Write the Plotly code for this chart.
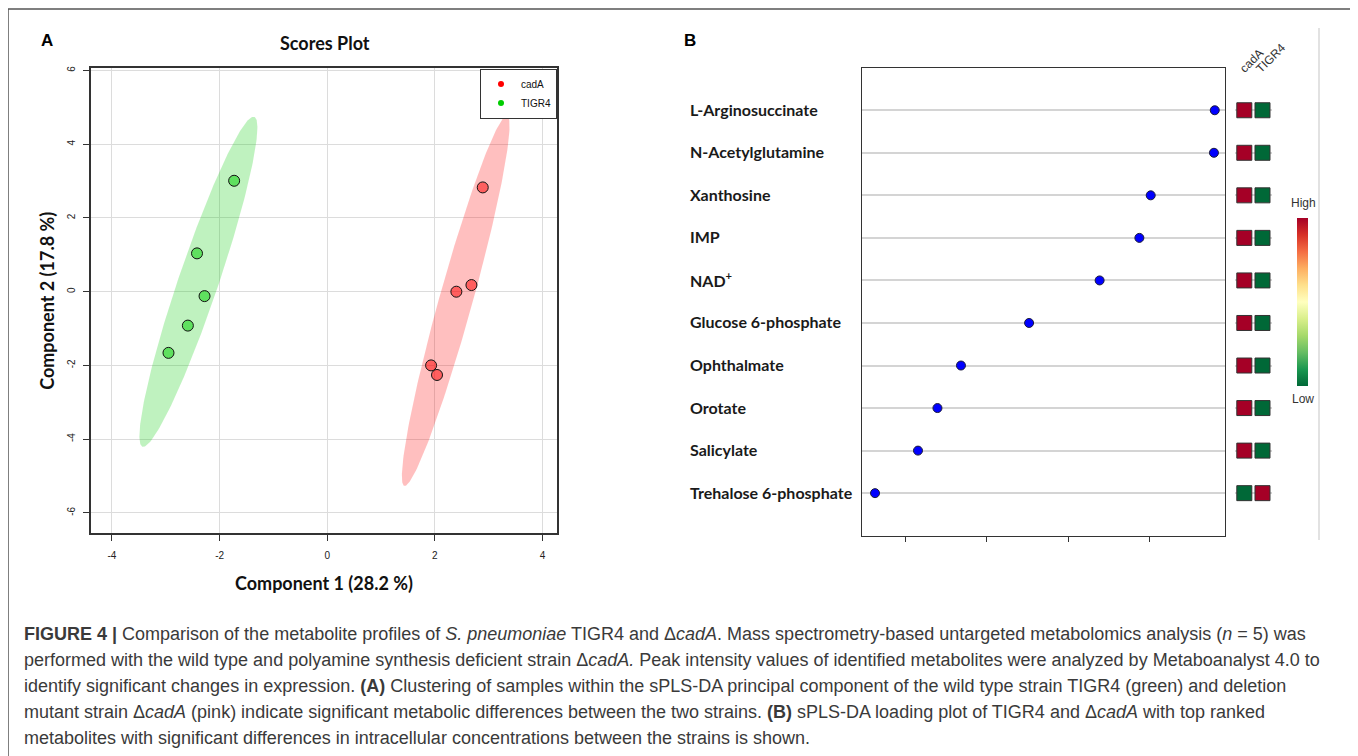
import numpy as np
import plotly.graph_objects as go

W, H = 1358, 756
OFF = 8  # the page body has an 8px margin; place marks where they appear on screen


def px(x):
    return (x - OFF) / W


def py(y):
    return 1 - (y - OFF) / H


# ---------------- Panel A data (scores) ----------------
cadA_x = [2.89, 2.40, 2.68, 1.93, 2.04]
cadA_y = [2.83, 0.00, 0.18, -2.00, -2.26]
tigr4_x = [-1.73, -2.42, -2.28, -2.59, -2.95]
tigr4_y = [3.01, 1.04, -0.12, -0.92, -1.66]
groups = ["cadA", "TIGR4"]
scoreA_xticks = [-4, -2, 0, 2, 4]
scoreA_xticklabels = ["-4", "-2", "0", "2", "4"]
scoreA_yticks = [-6, -4, -2, 0, 2, 4, 6]
scoreA_yticklabels = ["-6", "-4", "-2", "0", "2", "4", "6"]

# ---------------- Panel B data (loadings) ----------------
metabolites = ["L-Arginosuccinate", "N-Acetylglutamine", "Xanthosine", "IMP",
               "NAD<sup>+</sup>", "Glucose 6-phosphate", "Ophthalmate", "Orotate",
               "Salicylate", "Trehalose 6-phosphate"]
loadings = [0.481, 0.480, 0.402, 0.388, 0.339, 0.252, 0.168, 0.139, 0.115, 0.062]
cadA_level = [1, 1, 1, 1, 1, 1, 1, 1, 1, -1]
tigr4_level = [-1, -1, -1, -1, -1, -1, -1, -1, -1, 1]
loading_ticks = [0.1, 0.2, 0.3, 0.4]
heat_columns = ["cadA", "TIGR4"]

caption_lines = [
    "<b>FIGURE 4 |</b> Comparison of the metabolite profiles of <i>S. pneumoniae</i> TIGR4 and Δ<i>cadA</i>. Mass spectrometry-based untargeted metabolomics analysis (<i>n</i> = 5) was",
    "performed with the wild type and polyamine synthesis deficient strain Δ<i>cadA.</i> Peak intensity values of identified metabolites were analyzed by Metaboanalyst 4.0 to",
    "identify significant changes in expression. <b>(A)</b> Clustering of samples within the sPLS-DA principal component of the wild type strain TIGR4 (green) and deletion",
    "mutant strain Δ<i>cadA</i> (pink) indicate significant metabolic differences between the two strains. <b>(B)</b> sPLS-DA loading plot of TIGR4 and Δ<i>cadA</i> with top ranked",
    "metabolites with significant differences in intracellular concentrations between the strains is shown.",
]


def conf_ellipse(x, y, level=0.95, n=240):
    pts = np.column_stack([x, y])
    c = pts.mean(axis=0)
    cov = np.cov(pts, rowvar=False)
    r = np.sqrt(-2 * np.log(1 - level))
    vals, vecs = np.linalg.eigh(cov)
    t = np.linspace(0, 2 * np.pi, n)
    circ = np.column_stack([np.cos(t), np.sin(t)])
    e = c + r * (circ * np.sqrt(vals)) @ vecs.T
    return e[:, 0], e[:, 1]


fig = go.Figure()

styles = {
    "cadA": dict(fill="rgba(255,0,0,0.25)", pt="rgba(255,0,0,0.5)", leg="#FF0000"),
    "TIGR4": dict(fill="rgba(0,205,0,0.25)", pt="rgba(0,205,0,0.5)", leg="#00CD00"),
}
data_xy = {"cadA": (cadA_x, cadA_y), "TIGR4": (tigr4_x, tigr4_y)}

for g in groups:
    gx, gy = data_xy[g]
    ex, ey = conf_ellipse(gx, gy)
    fig.add_trace(go.Scatter(x=ex, y=ey, mode="lines", fill="toself",
                             fillcolor=styles[g]["fill"], line=dict(width=0),
                             hoverinfo="skip", showlegend=False, xaxis="x", yaxis="y"))
for g in groups:
    gx, gy = data_xy[g]
    fig.add_trace(go.Scatter(x=gx, y=gy, mode="markers", showlegend=False,
                             marker=dict(size=11, color=styles[g]["pt"],
                                         line=dict(color="#111111", width=1)),
                             xaxis="x", yaxis="y"))
for g in groups:
    fig.add_trace(go.Scatter(x=[None], y=[None], mode="markers", name=g,
                             marker=dict(size=6, color=styles[g]["leg"]),
                             xaxis="x", yaxis="y"))

ranks = list(range(1, len(metabolites) + 1))

# Panel B loadings dots
fig.add_trace(go.Scatter(x=loadings, y=ranks, mode="markers", showlegend=False,
                         marker=dict(size=9, color="#0000FF", line=dict(color="#1a1a3a", width=1)),
                         xaxis="x2", yaxis="y2"))

# Heatmap squares
hx, hy, hv = [], [], []
for i, r in enumerate(ranks):
    hx += [heat_columns[0], heat_columns[1]]
    hy += [r, r]
    hv += [cadA_level[i], tigr4_level[i]]
fig.add_trace(go.Scatter(
    x=hx, y=hy, mode="markers", showlegend=False, xaxis="x3", yaxis="y2",
    marker=dict(symbol="square", size=15, color=hv, colorscale="RdYlGn", reversescale=True,
                cmin=-1, cmax=1, line=dict(color="#333333", width=1),
                showscale=True,
                colorbar=dict(x=px(1297), xanchor="left", y=py(302), yanchor="middle",
                              len=(386 - 218) / H, lenmode="fraction", thickness=11,
                              thicknessmode="pixels", outlinewidth=0, showticklabels=False,
                              ticks="", xpad=0, ypad=0))))

axis_font = dict(family="Liberation Sans, Arial, sans-serif", size=10, color="#222222")
title_font = dict(family="Lato, sans-serif", size=18, color="#111111")

fig.update_layout(
    width=W, height=H, margin=dict(l=0, r=0, t=0, b=0),
    paper_bgcolor="white", plot_bgcolor="white",
    showlegend=True,
    legend=dict(x=px(557), xanchor="right", y=py(68.5), yanchor="top",
                bordercolor="#333333", borderwidth=1, bgcolor="white",
                font=dict(family="Liberation Sans, Arial, sans-serif", size=10, color="#111"),
                itemwidth=30, tracegroupgap=0),
    xaxis=dict(domain=[px(91), px(557)], range=[-4.39, 4.27], anchor="y",
               tickvals=scoreA_xticks, ticktext=scoreA_xticklabels,
               ticks="outside", ticklen=6, tickcolor="#333", tickfont=axis_font,
               ticklabelstandoff=6,
               showline=True, mirror=True, linecolor="#333", linewidth=1.5,
               showgrid=True, gridcolor="#DCDCDC", gridwidth=1, zeroline=False,
               automargin=False,
               title=dict(text="<b>Component 1 (28.2 %)</b>", font=title_font, standoff=17)),
    yaxis=dict(domain=[py(533.3), py(68.3)], range=[-6.556, 6.062], anchor="x",
               tickvals=scoreA_yticks, ticktext=scoreA_yticklabels, tickangle=-90,
               ticks="outside", ticklen=6, tickcolor="#333", tickfont=axis_font,
               ticklabelstandoff=4,
               showline=True, mirror=True, linecolor="#333", linewidth=1.5,
               showgrid=True, gridcolor="#DCDCDC", gridwidth=1, zeroline=False,
               automargin=False,
               title=dict(text="<b>Component 2 (17.8 %)</b>", font=title_font, standoff=7)),
    xaxis2=dict(domain=[px(861.8), px(1224.9)], range=[0.0457, 0.4935], anchor="y2",
                tickvals=loading_ticks, showticklabels=False, ticks="outside", ticklen=5,
                tickcolor="#333", showline=True, mirror=True, linecolor="#333", linewidth=1,
                showgrid=False, zeroline=False, automargin=False),
    yaxis2=dict(domain=[py(535.7), py(67.7)], range=[len(metabolites) + 1, 0], anchor="x2",
                tickvals=ranks, showticklabels=False, ticks="",
                showline=True, mirror=True, linecolor="#333", linewidth=1,
                showgrid=True, gridcolor="#D4D4D4", gridwidth=1.5, zeroline=False,
                automargin=False),
    xaxis3=dict(domain=[px(1235.2), px(1271.6)], range=[-0.5, 1.5], anchor="y2",
                type="category", categoryorder="array", categoryarray=heat_columns,
                visible=False, automargin=False),
)

C = dict(xanchor="center", yanchor="middle", xref="paper", yref="paper", showarrow=False)
annotations = [
    dict(text="<b>Scores Plot</b>", x=px(325), y=py(43),
         font=dict(family="Lato, sans-serif", size=18, color="#111"), **C),
    dict(text="<b>A</b>", x=px(47), y=py(40),
         font=dict(family="Liberation Sans, Arial, sans-serif", size=17, color="#000"), **C),
    dict(text="<b>B</b>", x=px(690), y=py(40),
         font=dict(family="Liberation Sans, Arial, sans-serif", size=17, color="#000"), **C),
    dict(text="High", x=px(1303), y=py(203),
         font=dict(family="Liberation Sans, Arial, sans-serif", size=12, color="#333"), **C),
    dict(text="Low", x=px(1303), y=py(399),
         font=dict(family="Liberation Sans, Arial, sans-serif", size=12, color="#333"), **C),
]
for name, r in zip(metabolites, ranks):
    annotations.append(dict(text="<b>%s</b>" % name, x=px(688), xanchor="left", xref="paper",
                            y=r, yref="y2", yanchor="middle", yshift=1, showarrow=False,
                            font=dict(family="Lato, sans-serif", size=16, color="#1a1a1a")))
col_pos = [(7, 61), (8.5, 58)]
for c, (xs, yc) in zip(heat_columns, col_pos):
    annotations.append(dict(text=c, x=c, xref="x3", y=py(yc), yref="paper", xshift=xs,
                            xanchor="center", yanchor="middle",
                            textangle=-45, showarrow=False,
                            font=dict(family="Liberation Sans, Arial, sans-serif", size=12, color="#333")))
cap_y = [634, 660, 686, 712, 738]
for line, yy in zip(caption_lines, cap_y):
    annotations.append(dict(text=line, x=px(22), xanchor="left", y=py(yy), yanchor="middle",
                            xref="paper", yref="paper", showarrow=False,
                            font=dict(family="Liberation Sans, Arial, sans-serif", size=18,
                                      color="#3a3a3a")))
fig.update_layout(annotations=annotations)

fig.update_layout(shapes=[
    dict(type="rect", xref="paper", yref="paper", x0=px(8), x1=px(1354), y0=py(775), y1=py(9),
         line=dict(color="#555555", width=1.5), fillcolor="rgba(0,0,0,0)", layer="above"),
    dict(type="line", xref="paper", yref="paper", x0=px(1319), x1=px(1319), y0=py(28), y1=py(540),
         line=dict(color="#E2E2E2", width=2), layer="below"),
])

fig.write_html("out.html")
